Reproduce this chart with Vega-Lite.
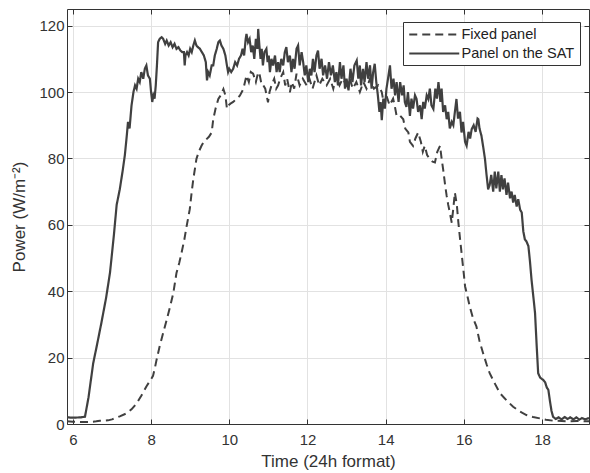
{
  "$schema": "https://vega.github.io/schema/vega-lite/v6.json",
  "width": 522,
  "height": 415,
  "autosize": {"type": "none"},
  "padding": {"left": 67, "top": 9, "right": 1, "bottom": 49},
  "background": "white",
  "config": {
    "font": "Liberation Sans",
    "view": {"stroke": null},
    "axis": {
      "labelFont": "Liberation Sans",
      "labelFontSize": 15,
      "labelColor": "#333333",
      "titleFont": "Liberation Sans",
      "titleFontSize": 17,
      "titleFontWeight": "normal",
      "titleColor": "#333333",
      "domainColor": "#333333",
      "domainWidth": 1,
      "tickColor": "#333333",
      "tickSize": -5,
      "gridColor": "#e2e2e2",
      "gridWidth": 1
    },
    "legend": {
      "labelFont": "Liberation Sans",
      "labelFontSize": 14.5,
      "labelColor": "#222222"
    }
  },
  "datasets": {
    "sat": [
      {"t":5.85,"v":2.0},{"t":6.0,"v":1.9},{"t":6.2,"v":2.0},{"t":6.31,"v":2.2},{"t":6.4,"v":8},{"t":6.52,"v":18.3},{"t":6.62,"v":24},{"t":6.73,"v":30.5},{"t":6.85,"v":38},{"t":6.95,"v":45.6},{"t":7.05,"v":57},{"t":7.12,"v":66},{"t":7.2,"v":70.7},{"t":7.27,"v":76},{"t":7.33,"v":81},{"t":7.38,"v":87},{"t":7.41,"v":91},{"t":7.45,"v":89},{"t":7.5,"v":95.9},{"t":7.55,"v":100},{"t":7.59,"v":102},{"t":7.63,"v":101},{"t":7.67,"v":104},{"t":7.71,"v":103},{"t":7.75,"v":106},{"t":7.8,"v":104},{"t":7.84,"v":107},{"t":7.88,"v":108},{"t":7.92,"v":105},{"t":7.97,"v":104},{"t":8.0,"v":100},{"t":8.03,"v":97},{"t":8.06,"v":99},{"t":8.09,"v":98},{"t":8.12,"v":102},{"t":8.15,"v":108},{"t":8.18,"v":115},{"t":8.22,"v":116},{"t":8.27,"v":116.5},{"t":8.31,"v":116},{"t":8.36,"v":114.5},{"t":8.4,"v":115.5},{"t":8.45,"v":114},{"t":8.5,"v":115},{"t":8.55,"v":113.5},{"t":8.6,"v":114.5},{"t":8.65,"v":113},{"t":8.7,"v":113.5},{"t":8.75,"v":112.5},{"t":8.8,"v":112},{"t":8.84,"v":112},{"t":8.86,"v":108},{"t":8.88,"v":111},{"t":8.92,"v":112},{"t":8.96,"v":111},{"t":9.0,"v":113},{"t":9.04,"v":112},{"t":9.08,"v":114},{"t":9.12,"v":115.5},{"t":9.16,"v":114},{"t":9.2,"v":113.5},{"t":9.25,"v":113},{"t":9.3,"v":112},{"t":9.35,"v":111},{"t":9.4,"v":109},{"t":9.43,"v":103.5},{"t":9.46,"v":106},{"t":9.5,"v":105},{"t":9.55,"v":108},{"t":9.59,"v":108},{"t":9.63,"v":111},{"t":9.68,"v":113},{"t":9.72,"v":115},{"t":9.76,"v":115.5},{"t":9.8,"v":114},{"t":9.85,"v":113},{"t":9.9,"v":111},{"t":9.94,"v":108},{"t":9.97,"v":106},{"t":10.0,"v":107},{"t":10.05,"v":106},{"t":10.1,"v":107},{"t":10.15,"v":109},{"t":10.2,"v":108},{"t":10.25,"v":110},{"t":10.3,"v":111},{"t":10.34,"v":113},{"t":10.38,"v":111},{"t":10.42,"v":116},{"t":10.44,"v":117.5},{"t":10.48,"v":115},{"t":10.52,"v":116},{"t":10.56,"v":112},{"t":10.6,"v":114},{"t":10.64,"v":110},{"t":10.68,"v":116},{"t":10.72,"v":113},{"t":10.74,"v":119},{"t":10.77,"v":114},{"t":10.8,"v":110},{"t":10.83,"v":113},{"t":10.86,"v":108},{"t":10.9,"v":112},{"t":10.95,"v":113},{"t":10.98,"v":109},{"t":11.01,"v":111},{"t":11.04,"v":106},{"t":11.08,"v":110},{"t":11.12,"v":108},{"t":11.17,"v":111},{"t":11.21,"v":106},{"t":11.25,"v":109},{"t":11.29,"v":106},{"t":11.33,"v":110},{"t":11.38,"v":108},{"t":11.42,"v":112},{"t":11.46,"v":113.5},{"t":11.5,"v":109},{"t":11.55,"v":111},{"t":11.59,"v":106},{"t":11.63,"v":110},{"t":11.67,"v":107},{"t":11.72,"v":113},{"t":11.76,"v":114},{"t":11.8,"v":108},{"t":11.85,"v":112},{"t":11.89,"v":109},{"t":11.93,"v":105},{"t":11.97,"v":108},{"t":12.02,"v":103},{"t":12.06,"v":107},{"t":12.1,"v":105},{"t":12.14,"v":110},{"t":12.18,"v":106},{"t":12.23,"v":111},{"t":12.27,"v":112.5},{"t":12.31,"v":107},{"t":12.36,"v":110},{"t":12.4,"v":105},{"t":12.45,"v":108},{"t":12.5,"v":104},{"t":12.55,"v":109},{"t":12.6,"v":105},{"t":12.65,"v":108},{"t":12.7,"v":103},{"t":12.74,"v":106},{"t":12.78,"v":102},{"t":12.83,"v":109},{"t":12.87,"v":104},{"t":12.92,"v":108},{"t":12.96,"v":101},{"t":13.0,"v":104},{"t":13.05,"v":100.5},{"t":13.1,"v":107},{"t":13.15,"v":103},{"t":13.2,"v":108},{"t":13.26,"v":109.5},{"t":13.3,"v":104},{"t":13.34,"v":108},{"t":13.37,"v":102},{"t":13.42,"v":107},{"t":13.46,"v":103},{"t":13.51,"v":109},{"t":13.55,"v":104},{"t":13.6,"v":108},{"t":13.64,"v":101},{"t":13.68,"v":106},{"t":13.72,"v":108.5},{"t":13.76,"v":103},{"t":13.8,"v":99},{"t":13.84,"v":94},{"t":13.87,"v":97},{"t":13.9,"v":91.5},{"t":13.94,"v":98},{"t":13.98,"v":95},{"t":14.02,"v":101},{"t":14.06,"v":104},{"t":14.11,"v":108},{"t":14.15,"v":101},{"t":14.2,"v":104},{"t":14.24,"v":99},{"t":14.28,"v":103},{"t":14.33,"v":97},{"t":14.37,"v":103},{"t":14.42,"v":99},{"t":14.46,"v":102},{"t":14.49,"v":97},{"t":14.53,"v":95.5},{"t":14.57,"v":100},{"t":14.62,"v":92.8},{"t":14.66,"v":98},{"t":14.7,"v":95},{"t":14.75,"v":99},{"t":14.79,"v":97.9},{"t":14.83,"v":94},{"t":14.88,"v":96},{"t":14.92,"v":91.8},{"t":14.96,"v":97},{"t":15.0,"v":95},{"t":15.05,"v":99},{"t":15.09,"v":97.9},{"t":15.13,"v":101},{"t":15.17,"v":96},{"t":15.22,"v":94.9},{"t":15.27,"v":101},{"t":15.31,"v":98},{"t":15.35,"v":103},{"t":15.4,"v":97},{"t":15.43,"v":101},{"t":15.47,"v":94},{"t":15.52,"v":96},{"t":15.56,"v":91.8},{"t":15.6,"v":94},{"t":15.64,"v":89},{"t":15.69,"v":91},{"t":15.73,"v":90},{"t":15.77,"v":94},{"t":15.81,"v":97.9},{"t":15.85,"v":92},{"t":15.9,"v":94},{"t":15.94,"v":87.8},{"t":15.98,"v":91},{"t":16.03,"v":85},{"t":16.07,"v":83.8},{"t":16.12,"v":88},{"t":16.16,"v":86},{"t":16.2,"v":88.8},{"t":16.25,"v":90},{"t":16.3,"v":88},{"t":16.35,"v":92},{"t":16.37,"v":91.8},{"t":16.4,"v":89},{"t":16.45,"v":86.8},{"t":16.5,"v":83},{"t":16.54,"v":79.8},{"t":16.58,"v":75},{"t":16.62,"v":70.7},{"t":16.66,"v":72},{"t":16.7,"v":75},{"t":16.75,"v":70},{"t":16.79,"v":76},{"t":16.83,"v":71},{"t":16.88,"v":76},{"t":16.92,"v":70},{"t":16.96,"v":75},{"t":17.0,"v":70.7},{"t":17.04,"v":74},{"t":17.09,"v":69},{"t":17.13,"v":72.7},{"t":17.18,"v":68},{"t":17.22,"v":70},{"t":17.26,"v":66.7},{"t":17.3,"v":69},{"t":17.35,"v":65.5},{"t":17.39,"v":67.7},{"t":17.44,"v":64.5},{"t":17.48,"v":63.7},{"t":17.52,"v":58},{"t":17.56,"v":55.6},{"t":17.6,"v":55},{"t":17.65,"v":53.6},{"t":17.69,"v":49},{"t":17.73,"v":43.5},{"t":17.78,"v":38},{"t":17.82,"v":33.4},{"t":17.86,"v":24},{"t":17.9,"v":15.3},{"t":17.95,"v":14},{"t":18.0,"v":13.5},{"t":18.03,"v":13.3},{"t":18.08,"v":12.5},{"t":18.12,"v":11},{"t":18.16,"v":10.3},{"t":18.2,"v":7},{"t":18.24,"v":4},{"t":18.28,"v":2.2},{"t":18.35,"v":1.5},{"t":18.42,"v":2.0},{"t":18.5,"v":1.4},{"t":18.58,"v":2.1},{"t":18.65,"v":1.5},{"t":18.72,"v":2.0},{"t":18.8,"v":1.4},{"t":18.88,"v":2.0},{"t":18.95,"v":1.3},{"t":19.02,"v":1.8},{"t":19.1,"v":1.4},{"t":19.2,"v":1.8}
    ],
    "fixed": [
      {"t":5.85,"v":0.8},{"t":6.0,"v":0.7},{"t":6.2,"v":0.6},{"t":6.4,"v":0.6},{"t":6.6,"v":0.8},{"t":6.69,"v":1.0},{"t":6.8,"v":1.0},{"t":6.9,"v":1.1},{"t":7.0,"v":1.4},{"t":7.07,"v":1.7},{"t":7.2,"v":2.3},{"t":7.37,"v":3.2},{"t":7.5,"v":4.4},{"t":7.63,"v":6.2},{"t":7.75,"v":8.5},{"t":7.88,"v":11.3},{"t":8.0,"v":13.5},{"t":8.05,"v":14.5},{"t":8.1,"v":17},{"t":8.14,"v":19.3},{"t":8.22,"v":23.4},{"t":8.3,"v":27},{"t":8.4,"v":31.4},{"t":8.5,"v":36},{"t":8.57,"v":39.5},{"t":8.65,"v":45.5},{"t":8.72,"v":48.5},{"t":8.78,"v":51.6},{"t":8.85,"v":55.5},{"t":8.91,"v":59.6},{"t":8.99,"v":64.7},{"t":9.04,"v":70},{"t":9.08,"v":73.7},{"t":9.16,"v":79.8},{"t":9.22,"v":82},{"t":9.29,"v":83.8},{"t":9.35,"v":85},{"t":9.42,"v":85.8},{"t":9.48,"v":86.5},{"t":9.55,"v":87.8},{"t":9.59,"v":91.8},{"t":9.65,"v":95},{"t":9.72,"v":97.9},{"t":9.78,"v":99},{"t":9.85,"v":100.9},{"t":9.9,"v":99},{"t":9.94,"v":95},{"t":9.97,"v":95.9},{"t":10.03,"v":96.5},{"t":10.1,"v":97},{"t":10.19,"v":98},{"t":10.27,"v":98.9},{"t":10.36,"v":100.9},{"t":10.44,"v":105},{"t":10.5,"v":103},{"t":10.55,"v":106},{"t":10.61,"v":105.5},{"t":10.68,"v":103},{"t":10.74,"v":106},{"t":10.78,"v":105},{"t":10.83,"v":102},{"t":10.87,"v":102},{"t":10.92,"v":101},{"t":10.99,"v":96.9},{"t":11.03,"v":100},{"t":11.08,"v":102},{"t":11.15,"v":104},{"t":11.2,"v":101},{"t":11.25,"v":102},{"t":11.3,"v":104},{"t":11.38,"v":106},{"t":11.43,"v":102},{"t":11.48,"v":104},{"t":11.55,"v":99.9},{"t":11.6,"v":103},{"t":11.66,"v":101},{"t":11.72,"v":105.5},{"t":11.8,"v":102},{"t":11.88,"v":104},{"t":11.98,"v":102},{"t":12.05,"v":104},{"t":12.13,"v":101},{"t":12.23,"v":105},{"t":12.3,"v":102},{"t":12.38,"v":104},{"t":12.49,"v":102},{"t":12.58,"v":104},{"t":12.66,"v":101},{"t":12.74,"v":105},{"t":12.82,"v":102},{"t":12.9,"v":104},{"t":13.0,"v":102},{"t":13.08,"v":104},{"t":13.16,"v":101},{"t":13.25,"v":103},{"t":13.34,"v":100},{"t":13.43,"v":103},{"t":13.51,"v":101},{"t":13.6,"v":104},{"t":13.7,"v":101},{"t":13.81,"v":102},{"t":13.9,"v":100},{"t":13.96,"v":96},{"t":14.02,"v":98.9},{"t":14.1,"v":96},{"t":14.19,"v":98},{"t":14.23,"v":96},{"t":14.28,"v":92.8},{"t":14.36,"v":93},{"t":14.45,"v":91.8},{"t":14.5,"v":89},{"t":14.58,"v":87.8},{"t":14.62,"v":85},{"t":14.7,"v":83.8},{"t":14.76,"v":86},{"t":14.83,"v":87.8},{"t":14.9,"v":85},{"t":14.95,"v":82},{"t":15.0,"v":83.8},{"t":15.06,"v":81},{"t":15.13,"v":79.8},{"t":15.2,"v":79},{"t":15.26,"v":78.8},{"t":15.32,"v":82},{"t":15.39,"v":83.8},{"t":15.43,"v":80},{"t":15.47,"v":76.7},{"t":15.52,"v":72},{"t":15.56,"v":68.7},{"t":15.6,"v":66},{"t":15.64,"v":63.7},{"t":15.69,"v":60.6},{"t":15.73,"v":65},{"t":15.77,"v":69.7},{"t":15.82,"v":66},{"t":15.86,"v":60.6},{"t":15.9,"v":56},{"t":15.94,"v":51.6},{"t":16.0,"v":45},{"t":16.03,"v":41.5},{"t":16.1,"v":38},{"t":16.15,"v":35.4},{"t":16.23,"v":32},{"t":16.32,"v":29.4},{"t":16.4,"v":25},{"t":16.49,"v":21.4},{"t":16.58,"v":18},{"t":16.66,"v":15.3},{"t":16.8,"v":12},{"t":16.92,"v":9.3},{"t":17.1,"v":7},{"t":17.26,"v":5.2},{"t":17.43,"v":3.8},{"t":17.6,"v":2.7},{"t":17.77,"v":2.1},{"t":17.94,"v":1.7},{"t":18.1,"v":1.3},{"t":18.28,"v":1.0},{"t":18.5,"v":0.9},{"t":18.7,"v":0.8},{"t":18.9,"v":0.9},{"t":19.1,"v":0.8},{"t":19.2,"v":0.8}
    ]
  },
  "resolve": {"axis": {"x": "independent", "y": "independent"}},
  "layer": [
    {
      "data": {"name": "fixed"},
      "mark": {"type": "line", "strokeWidth": 2, "clip": true},
      "encoding": {
        "x": {"field": "t", "type": "quantitative",
              "scale": {"domain": [5.85, 19.2], "nice": false, "zero": false},
              "axis": {"orient": "bottom", "title": "Time (24h format)", "values": [6, 8, 10, 12, 14, 16, 18], "labelPadding": 13, "titlePadding": 6}},
        "y": {"field": "v", "type": "quantitative",
              "scale": {"domain": [0, 125], "nice": false},
              "axis": {"orient": "left", "title": "Power (W/m⁻²)", "values": [0, 20, 40, 60, 80, 100, 120], "labelPadding": 8, "titlePadding": 10}},
        "color": {"datum": "Fixed panel", "type": "nominal",
                  "scale": {"domain": ["Fixed panel", "Panel on the SAT"], "range": ["#404040", "#404040"]},
                  "legend": {"title": null, "orient": "none", "legendX": 336, "legendY": 13, "symbolType": "M-4,0H4", "symbolSize": 156.25, "symbolOffset": 18.75, "symbolStrokeWidth": 2, "labelOffset": 19.75, "strokeColor": "#333333", "fillColor": "white", "padding": 5, "rowPadding": 4}},
        "strokeDash": {"datum": "Fixed panel", "type": "nominal",
                  "scale": {"domain": ["Fixed panel", "Panel on the SAT"], "range": [[8, 5], [1, 0]]},
                  "legend": {"title": null, "orient": "none", "legendX": 336, "legendY": 13, "symbolType": "M-4,0H4", "symbolSize": 156.25, "symbolOffset": 18.75, "symbolStrokeWidth": 2, "labelOffset": 19.75, "strokeColor": "#333333", "fillColor": "white", "padding": 5, "rowPadding": 4}}
      }
    },
    {
      "data": {"name": "sat"},
      "mark": {"type": "line", "strokeWidth": 2.2, "clip": true},
      "encoding": {
        "x": {"field": "t", "type": "quantitative", "axis": null},
        "y": {"field": "v", "type": "quantitative", "axis": null},
        "color": {"datum": "Panel on the SAT", "type": "nominal"},
        "strokeDash": {"datum": "Panel on the SAT", "type": "nominal"}
      }
    },
    {
      "data": {"name": "fixed"},
      "mark": {"type": "line", "opacity": 0},
      "encoding": {
        "x": {"field": "t", "type": "quantitative",
              "axis": {"orient": "top", "title": null, "labels": false, "grid": false, "values": [6, 8, 10, 12, 14, 16, 18]}},
        "y": {"field": "v", "type": "quantitative",
              "axis": {"orient": "right", "title": null, "labels": false, "grid": false, "values": [0, 20, 40, 60, 80, 100, 120]}}
      }
    }
  ]
}
